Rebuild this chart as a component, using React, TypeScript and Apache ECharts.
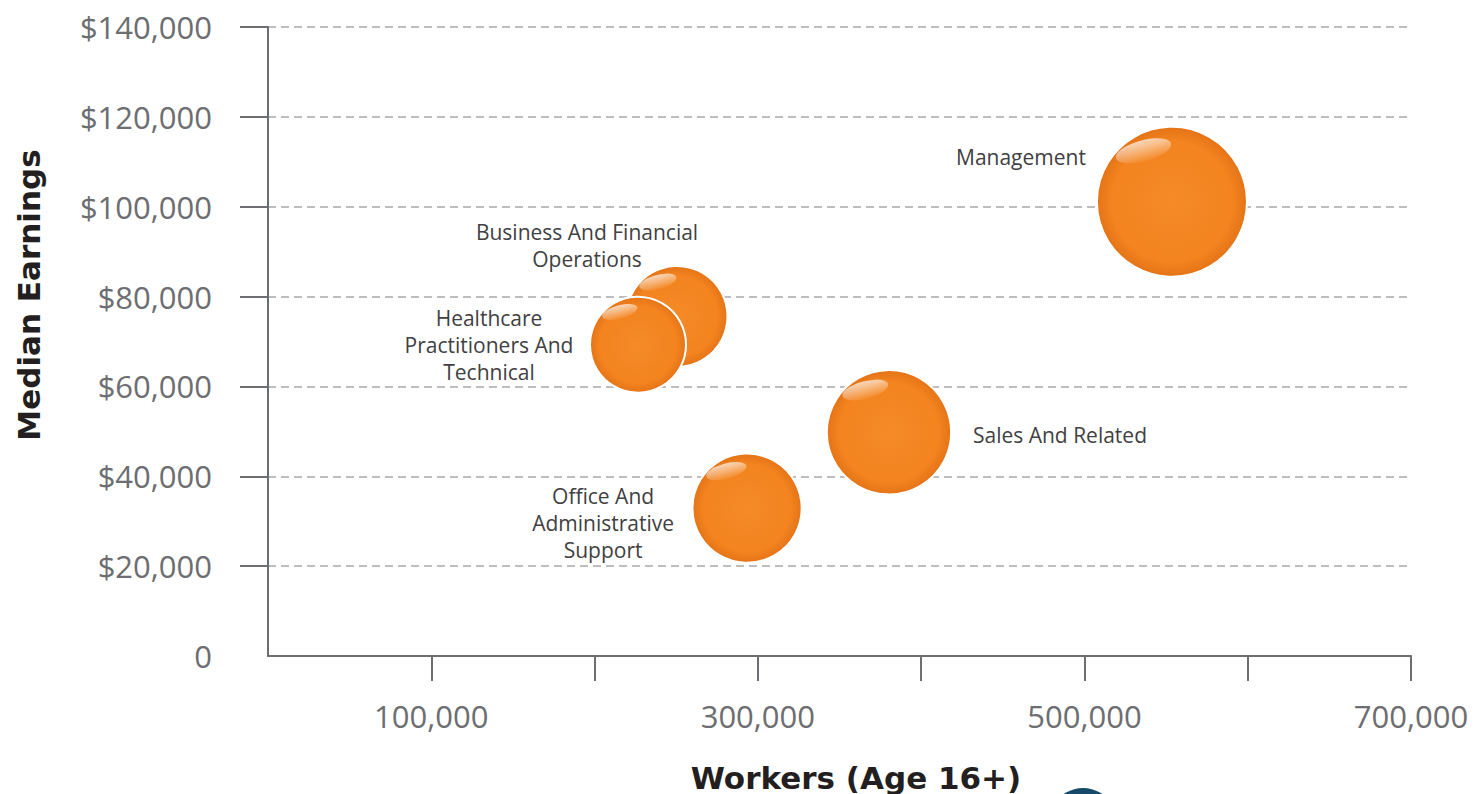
import React, { useEffect, useRef } from "react";
import * as echarts from "echarts";

const categories = [
  "Business And Financial\nOperations",
  "Healthcare\nPractitioners And\nTechnical",
  "Office And\nAdministrative\nSupport",
  "Sales And Related",
  "Management",
];
const workers = [250500, 226600, 293400, 380300, 553600];
const earnings = [75600, 69300, 32900, 49800, 101100];
// label offsets from bubble centre (style only)
const labelOffsets = [
  [-90, -71],
  [-149, 0],
  [-144, 15],
  [171, 3],
  [-151, -45],
];
const xTickValues = [100000, 200000, 300000, 400000, 500000, 600000, 700000];
const xLabelValues = [100000, 300000, 500000, 700000];
const yTickValues = [20000, 40000, 60000, 80000, 100000, 120000, 140000];

const diam = (w: number) => 6.375 * Math.sqrt(w / 1000);

export default function App() {
  const ref = useRef<HTMLDivElement>(null);
  useEffect(() => {
    if (!ref.current) return;
    const chart = echarts.init(ref.current, null, { renderer: "svg" });
    const font = "'Open Sans', sans-serif";
    const titleFont = "'DejaVu Sans', sans-serif";
    const bubbleColor = new echarts.graphic.RadialGradient(0.5, 0.5, 0.5, [
      { offset: 0, color: "#F58A27" },
      { offset: 0.8, color: "#F3841F" },
      { offset: 0.97, color: "#E67618" },
      { offset: 1, color: "#E06F12" },
    ]);
    const bubbles = categories.map((name, i) => ({
      name,
      value: [workers[i], earnings[i]],
      symbolSize: diam(workers[i]),
      label: {
        show: true,
        position: "inside",
        offset: labelOffsets[i],
        formatter: name,
        align: "center",
        verticalAlign: "middle",
        color: "#414042",
        fontSize: 21,
        lineHeight: 27,
        fontFamily: font,
      },
    }));
    const highlights = categories.map((name, i) => {
      const d = diam(workers[i]);
      return {
        name,
        value: [workers[i], earnings[i]],
        symbolSize: [d * 0.38, d * 0.14],
        symbolOffset: [-d * 0.19, -d * 0.34],
      };
    });
    chart.setOption({
      animation: false,
      grid: { left: 268, right: 67, top: 27, bottom: 138, containLabel: false },
      xAxis: {
        type: "value",
        min: 0,
        max: 700000,
        interval: 100000,
        axisLine: { show: true, lineStyle: { color: "#6d6e71", width: 2 } },
        axisTick: {
          show: true,
          length: 25,
          customValues: xTickValues,
          lineStyle: { color: "#6d6e71", width: 2 },
        },
        axisLabel: {
          customValues: xLabelValues,
          margin: 44,
          color: "#6d6e71",
          fontSize: 31,
          fontFamily: font,
          formatter: (v: number) => v.toLocaleString("en-US"),
        },
        splitLine: { show: false },
      },
      yAxis: {
        type: "value",
        min: 0,
        max: 140000,
        interval: 20000,
        axisLine: { show: true, lineStyle: { color: "#6d6e71", width: 2 } },
        axisTick: {
          show: true,
          length: 28,
          customValues: yTickValues,
          lineStyle: { color: "#6d6e71", width: 2 },
        },
        axisLabel: {
          margin: 56,
          color: "#6d6e71",
          fontSize: 31,
          fontFamily: font,
          formatter: (v: number) => (v === 0 ? "0" : "$" + v.toLocaleString("en-US")),
        },
        splitLine: {
          show: true,
          lineStyle: { color: "#a7a9ac", type: [8, 5], width: 1.5 },
        },
      },
      series: [
        {
          type: "scatter",
          data: bubbles,
          itemStyle: { color: bubbleColor, borderColor: "#ffffff", borderWidth: 2, opacity: 1 },
          z: 2,
        },
        {
          type: "scatter",
          data: highlights,
          symbol: "circle",
          symbolRotate: 15,
          silent: true,
          itemStyle: {
            color: new echarts.graphic.LinearGradient(0, 0, 0, 1, [
              { offset: 0, color: "rgba(255,255,255,0.7)" },
              { offset: 1, color: "rgba(255,255,255,0.05)" },
            ]),
            opacity: 1,
          },
          z: 3,
        },
      ],
      graphic: [
        {
          type: "text",
          x: 856,
          y: 793,
          style: {
            text: "Workers (Age 16+)",
            fontSize: 31,
            fontWeight: "bold",
            fill: "#231f20",
            fontFamily: titleFont,
            align: "center",
            verticalAlign: "bottom",
          },
        },
        {
          type: "text",
          x: 29,
          y: 295,
          rotation: Math.PI / 2,
          style: {
            text: "Median Earnings",
            fontSize: 31,
            fontWeight: "bold",
            fill: "#231f20",
            fontFamily: titleFont,
            align: "center",
            verticalAlign: "middle",
          },
        },
        {
          type: "circle",
          shape: { cx: 1083, cy: 822, r: 34 },
          style: { fill: "#17496b" },
        },
      ],
    });
    return () => chart.dispose();
  }, []);
  return (
    <div
      ref={ref}
      style={{ position: "fixed", left: 0, top: 0, width: 1478, height: 794, background: "#fff" }}
    />
  );
}
